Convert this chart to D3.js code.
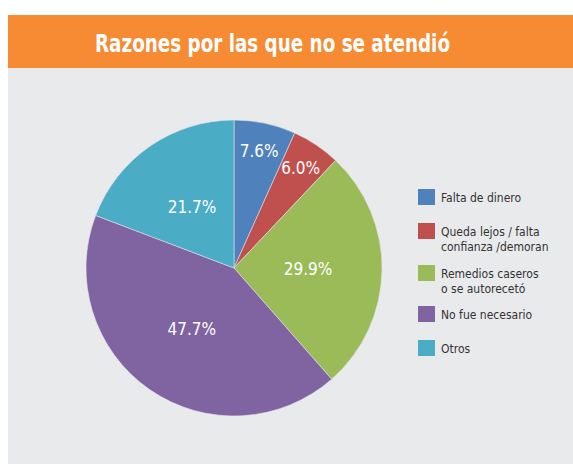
<!DOCTYPE html>
<html>
<head>
<meta charset="utf-8">
<script src="https://cdn.jsdelivr.net/npm/d3@7"></script>
<style>
  html, body { margin: 0; padding: 0; background: #fff; }
  svg { display: block; }
</style>
</head>
<body>
<div id="chart"></div>
<script>
const title = "Razones por las que no se atendió";
const categories = [
    ["Falta de dinero"],
    ["Queda lejos / falta", "confianza /demoran"],
    ["Remedios caseros", "o se autorecetó"],
    ["No fue necesario"],
    ["Otros"]
];
const values = [7.6, 6.0, 29.9, 47.7, 21.7];
const colors = ["#4f81bd", "#c0504d", "#9bbb59", "#8064a2", "#4bacc6"];

const width = 573;
const height = 464;
const font = "'DejaVu Sans Condensed', 'Liberation Sans', sans-serif";

const svg = d3.select("#chart").append("svg")
    .attr("width", width)
    .attr("height", height);

// panel and header
svg.append("rect")
    .attr("x", 8).attr("y", 68)
    .attr("width", width - 8).attr("height", height - 68)
    .attr("fill", "#e9eaec");

svg.append("rect")
    .attr("x", 8).attr("y", 15)
    .attr("width", width - 8).attr("height", 53)
    .attr("fill", "#f68b33");

svg.append("text")
    .attr("x", 95).attr("y", 52)
    .attr("fill", "#fff")
    .attr("textLength", 355)
    .attr("lengthAdjust", "spacingAndGlyphs")
    .style("font-family", font)
    .style("font-size", "25px")
    .style("font-weight", "bold")
    .text(title);

// pie
const cx = 234, cy = 268, radius = 148;

const pie = d3.pie().sort(null).value(d => d);
const arcs = pie(values);

const arc = d3.arc().innerRadius(0).outerRadius(radius);

const g = svg.append("g").attr("transform", `translate(${cx},${cy})`);

g.selectAll("path")
    .data(arcs)
    .enter().append("path")
    .attr("d", arc)
    .attr("fill", (d, i) => colors[i])
    .attr("stroke", "#dfe3ea")
    .attr("stroke-width", 0.6);

const outerLabel = d3.arc().innerRadius(radius * 0.81).outerRadius(radius * 0.81);
const innerLabel = d3.arc().innerRadius(radius * 0.5).outerRadius(radius * 0.5);

g.selectAll(".pct")
    .data(arcs)
    .enter().append("text")
    .attr("class", "pct")
    .attr("transform", d => `translate(${(d.data < 10 ? outerLabel : innerLabel).centroid(d)})`)
    .attr("dy", "0.35em")
    .attr("text-anchor", "middle")
    .attr("fill", "#fff")
    .style("font-family", font)
    .style("font-size", "17px")
    .text(d => d3.format(".1f")(d.data) + "%");

// legend
const legendY = d3.scaleOrdinal()
    .domain(d3.range(categories.length))
    .range([189, 223, 265, 306, 340]);

const legend = svg.append("g")
    .selectAll("g")
    .data(categories)
    .enter().append("g")
    .attr("transform", (d, i) => `translate(418,${legendY(i)})`);

legend.append("rect")
    .attr("width", 17).attr("height", 16)
    .attr("fill", (d, i) => colors[i]);

legend.append("text")
    .attr("x", 23)
    .attr("fill", "#333")
    .style("font-family", font)
    .style("font-size", "12px")
    .selectAll("tspan")
    .data(d => d)
    .enter().append("tspan")
    .attr("x", 23)
    .attr("y", (d, i) => 13 + i * 15)
    .text(d => d);
</script>
</body>
</html>
